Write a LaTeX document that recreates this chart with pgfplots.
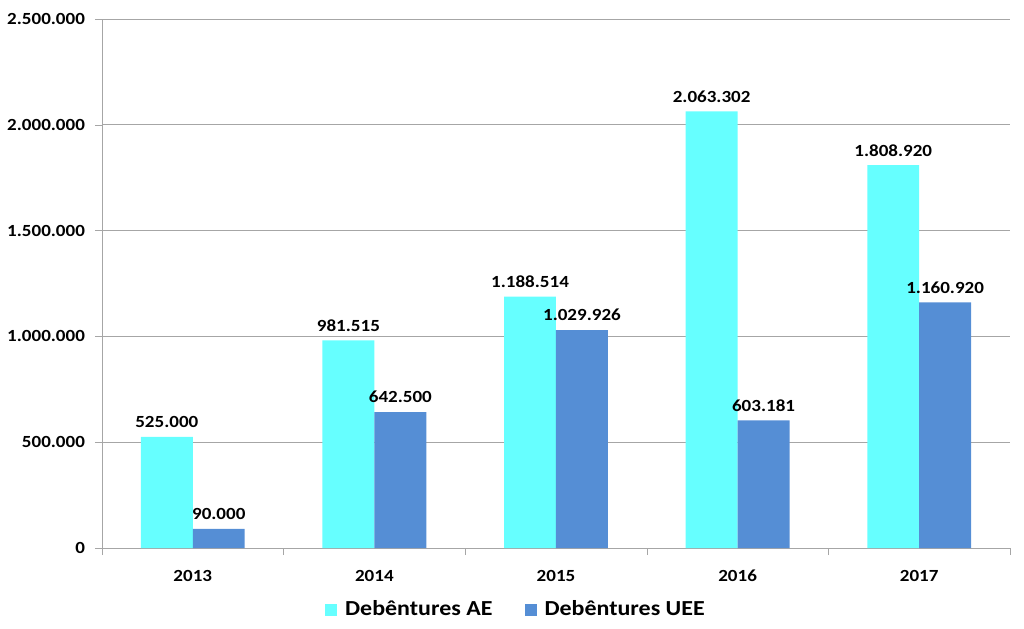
\documentclass[border=0pt]{standalone}
\usepackage{pgfplots}
\pgfplotsset{compat=1.18}
\usepackage{fontspec}
\setmainfont[FakeStretch=1.12]{Carlito}
\definecolor{cAE}{HTML}{66FFFF}
\definecolor{cUEE}{HTML}{558ED5}
\definecolor{gridc}{HTML}{A6A6A6}
\begin{document}
\begin{tikzpicture}
\path[use as bounding box] (-51pt,-40pt) rectangle (461pt,274pt);
\begin{axis}[
  at={(0,0)}, anchor=south west,
  scale only axis, width=454pt, height=264.5pt,
  xmin=-0.5, xmax=4.5, ymin=0, ymax=2500000,
  axis x line*=bottom, axis y line*=left,
  axis line style={gridc, -},
  ybar, bar width=0.286,
  xtick={0,1,2,3,4},
  xticklabels={2013,2014,2015,2016,2017},
  minor xtick={-0.5,0.5,1.5,2.5,3.5,4.5},
  major x tick style={draw=none},
  minor tick length=3.5pt,
  minor x tick style={gridc},
  ytick={0,500000,1000000,1500000,2000000,2500000},
  major tick length=3.5pt,
  tick align=outside,
  y tick style={gridc},
  ymajorgrids, major grid style={gridc, line width=0.5pt},
  scaled y ticks=false,
  /pgf/number format/.cd, fixed, 1000 sep={.}, assume math mode=true,
  /pgfplots/.cd,
  tick label style={font=\fontsize{8.5}{10}\selectfont\bfseries},
  xticklabel style={yshift=-4pt},
  yticklabel style={xshift=-1.5pt},
  nodes near coords,
  every node near coord/.append style={font=\fontsize{8.5}{10}\selectfont\bfseries, yshift=1pt},
  legend style={draw=none, at={(0.457,-0.117)}, anchor=center, legend columns=2,
    font=\fontsize{10.7}{12}\selectfont\bfseries,
    /tikz/every odd column/.append style={column sep=2pt},
    /tikz/every even column/.append style={column sep=14pt}},
  legend image code/.code={\fill[#1] (0pt,-3pt) rectangle (6pt,3pt);},
]
\addplot[fill=cAE, draw=none, bar shift=-0.143] coordinates {(0,525000) (1,981515) (2,1188514) (3,2063302) (4,1808920)};
\addplot[fill=cUEE, draw=none, bar shift=0.143] coordinates {(0,90000) (1,642500) (2,1029926) (3,603181) (4,1160920)};
\legend{Debêntures AE, Debêntures UEE}
\end{axis}
\end{tikzpicture}
\end{document}
